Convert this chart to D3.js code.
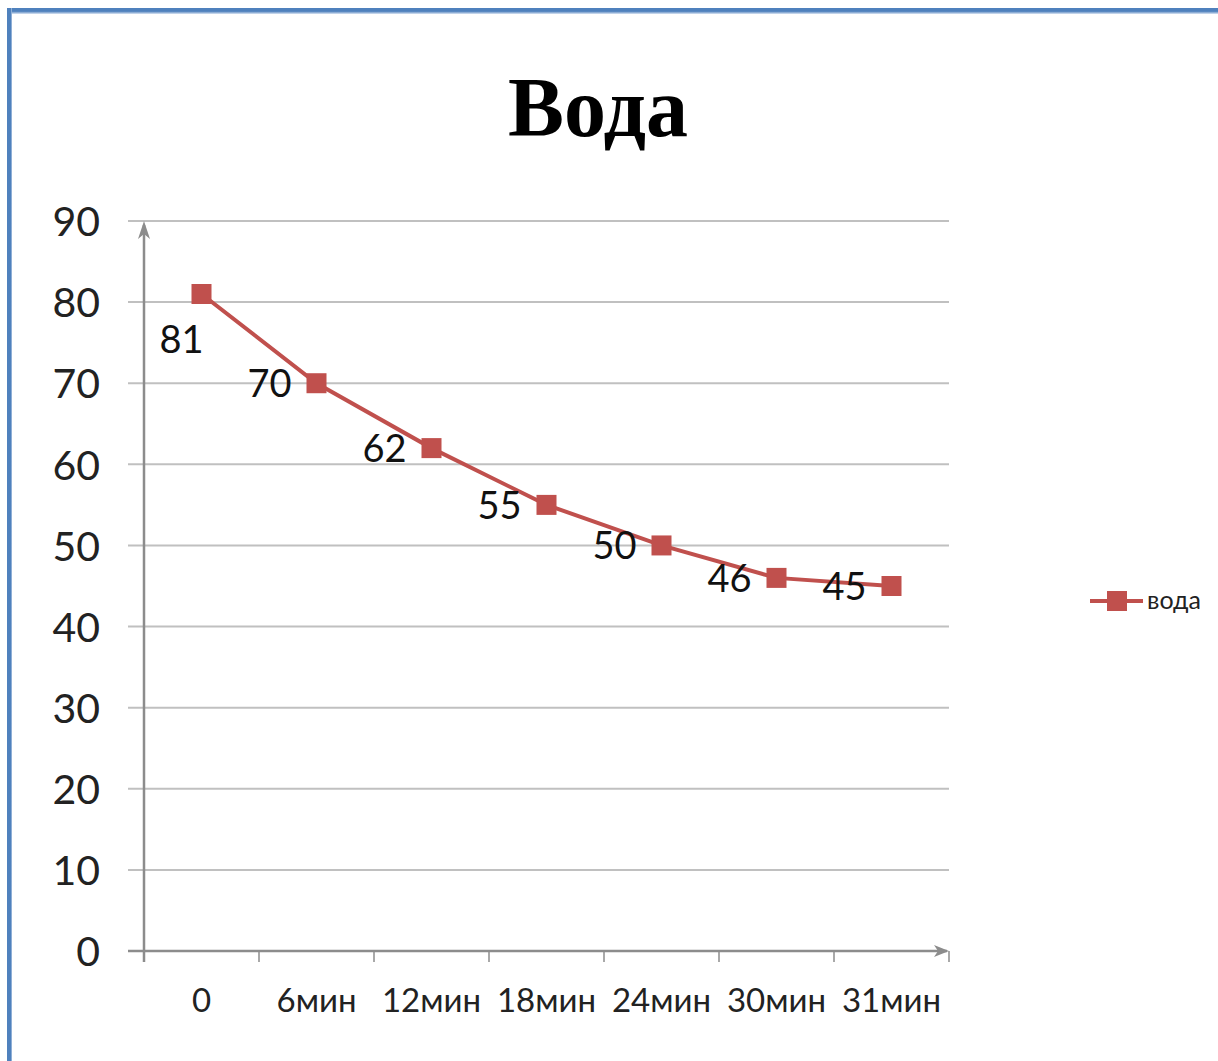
<!DOCTYPE html>
<html><head><meta charset="utf-8">
<script src="https://cdn.jsdelivr.net/npm/d3@7"></script>
<style>html,body{margin:0;padding:0;background:#fff;}svg{display:block;}</style>
</head><body>
<script>
const categories = ["0","6мин","12мин","18мин","24мин","30мин","31мин"];
const values = [81,70,62,55,50,46,45];
const yTicks = [0,10,20,30,40,50,60,70,80,90];
const seriesName = "вода";
const title = "Вода";

const W = 1218, H = 1061;
const svg = d3.select("body").append("svg").attr("width", W).attr("height", H);
const defs = svg.append("defs");
const gT = defs.append("linearGradient").attr("id","gt").attr("x1",0).attr("y1",0).attr("x2",0).attr("y2",1);
gT.append("stop").attr("offset","0%").attr("stop-color","#4f81bd");
gT.append("stop").attr("offset","55%").attr("stop-color","#4f81bd");
gT.append("stop").attr("offset","100%").attr("stop-color","#dbe5f3");
const gL = defs.append("linearGradient").attr("id","gl").attr("x1",0).attr("y1",0).attr("x2",1).attr("y2",0);
gL.append("stop").attr("offset","0%").attr("stop-color","#4f81bd");
gL.append("stop").attr("offset","75%").attr("stop-color","#4f81bd");
gL.append("stop").attr("offset","100%").attr("stop-color","#b9cde6");

// frame
svg.append("rect").attr("x",7).attr("y",8).attr("width",W-7).attr("height",6).attr("fill","url(#gt)");
svg.append("rect").attr("x",7).attr("y",8).attr("width",5).attr("height",H-8).attr("fill","url(#gl)");

const x0 = 144, x1 = 949, yTop = 221, yBot = 951;
const x = d3.scaleBand().domain(categories).range([x0, x1]);
const y = d3.scaleLinear().domain([0, 90]).range([yBot, yTop]);
const font = "Lato,'Open Sans',sans-serif";

// title
svg.append("text").attr("x", 598).attr("y", 136).attr("text-anchor","middle")
  .attr("font-family","'Liberation Serif','Times New Roman',serif").attr("font-weight","bold")
  .attr("font-size", 84).attr("fill","#000").text(title);

// gridlines
svg.append("g").selectAll("line").data(yTicks.filter(d=>d>0)).join("line")
  .attr("x1", 128).attr("x2", x1).attr("y1", d=>y(d)).attr("y2", d=>y(d))
  .attr("stroke","#c0c0c0").attr("stroke-width",2);

// y axis
const yAxis = d3.axisLeft(y).tickValues(yTicks).tickSize(0).tickPadding(0);
const gy = svg.append("g").attr("transform",`translate(${x0},0)`).call(yAxis);
gy.select(".domain").remove();
gy.selectAll("text").attr("x", -44).attr("dy","0.36em")
  .attr("font-family",font).attr("font-size",41).attr("fill","#222");

// axis lines
const axisColor = "#8c8c8c";
svg.append("line").attr("x1",x0).attr("x2",x0).attr("y1",yBot+11).attr("y2",yTop+4)
  .attr("stroke",axisColor).attr("stroke-width",2.5);
svg.append("path").attr("d",`M${x0-6},${yTop+18} L${x0},${yTop} L${x0+6},${yTop+18} L${x0},${yTop+13}Z`).attr("fill",axisColor);
svg.append("line").attr("x1",128).attr("x2",x1-2).attr("y1",yBot).attr("y2",yBot)
  .attr("stroke",axisColor).attr("stroke-width",2.5);
svg.append("path").attr("d",`M${x1-15},${yBot-6} L${x1},${yBot} L${x1-15},${yBot+6} L${x1-11},${yBot}Z`).attr("fill",axisColor);

// x axis ticks and labels
const tickXs = categories.map(c=>x(c)).concat([x1]);
svg.append("g").selectAll("line").data(tickXs).join("line")
  .attr("x1",d=>d).attr("x2",d=>d).attr("y1",yBot).attr("y2",yBot+11)
  .attr("stroke",axisColor).attr("stroke-width",1.5);
const xAxis = d3.axisBottom(x).tickSize(0).tickPadding(0);
const gx = svg.append("g").attr("transform",`translate(0,${yBot})`).call(xAxis);
gx.select(".domain").remove();
gx.selectAll("text").attr("y", 61).attr("dy",0)
  .attr("font-family",font).attr("font-size",33).attr("fill","#222");

// line
const cx = d => x(d.c) + x.bandwidth()/2;
const pts = categories.map((c,i)=>({c, v: values[i]}));
const red = "#c0504d";
svg.append("path").datum(pts)
  .attr("d", d3.line().x(cx).y(d=>y(d.v)))
  .attr("fill","none").attr("stroke",red).attr("stroke-width",4);
svg.append("g").selectAll("rect").data(pts).join("rect")
  .attr("x",d=>cx(d)-10).attr("y",d=>y(d.v)-10).attr("width",20).attr("height",20).attr("fill",red);

// data labels
svg.append("g").selectAll("text").data(pts).join("text")
  .attr("x",(d,i)=> i===0 ? cx(d)-20 : cx(d)-25)
  .attr("y",(d,i)=> i===0 ? y(d.v)+59 : y(d.v)+14)
  .attr("text-anchor",(d,i)=> i===0 ? "middle" : "end")
  .attr("font-family",font).attr("font-size",38).attr("fill","#111")
  .text(d=>d.v);

// legend
const ly = 601;
svg.append("line").attr("x1",1090).attr("x2",1143).attr("y1",ly).attr("y2",ly).attr("stroke",red).attr("stroke-width",4);
svg.append("rect").attr("x",1107).attr("y",ly-10).attr("width",20).attr("height",20).attr("fill",red);
svg.append("text").attr("x",1147).attr("y",ly+8).attr("font-family",font)
  .attr("font-size",25).attr("fill","#222").text(seriesName);
</script>
</body></html>
